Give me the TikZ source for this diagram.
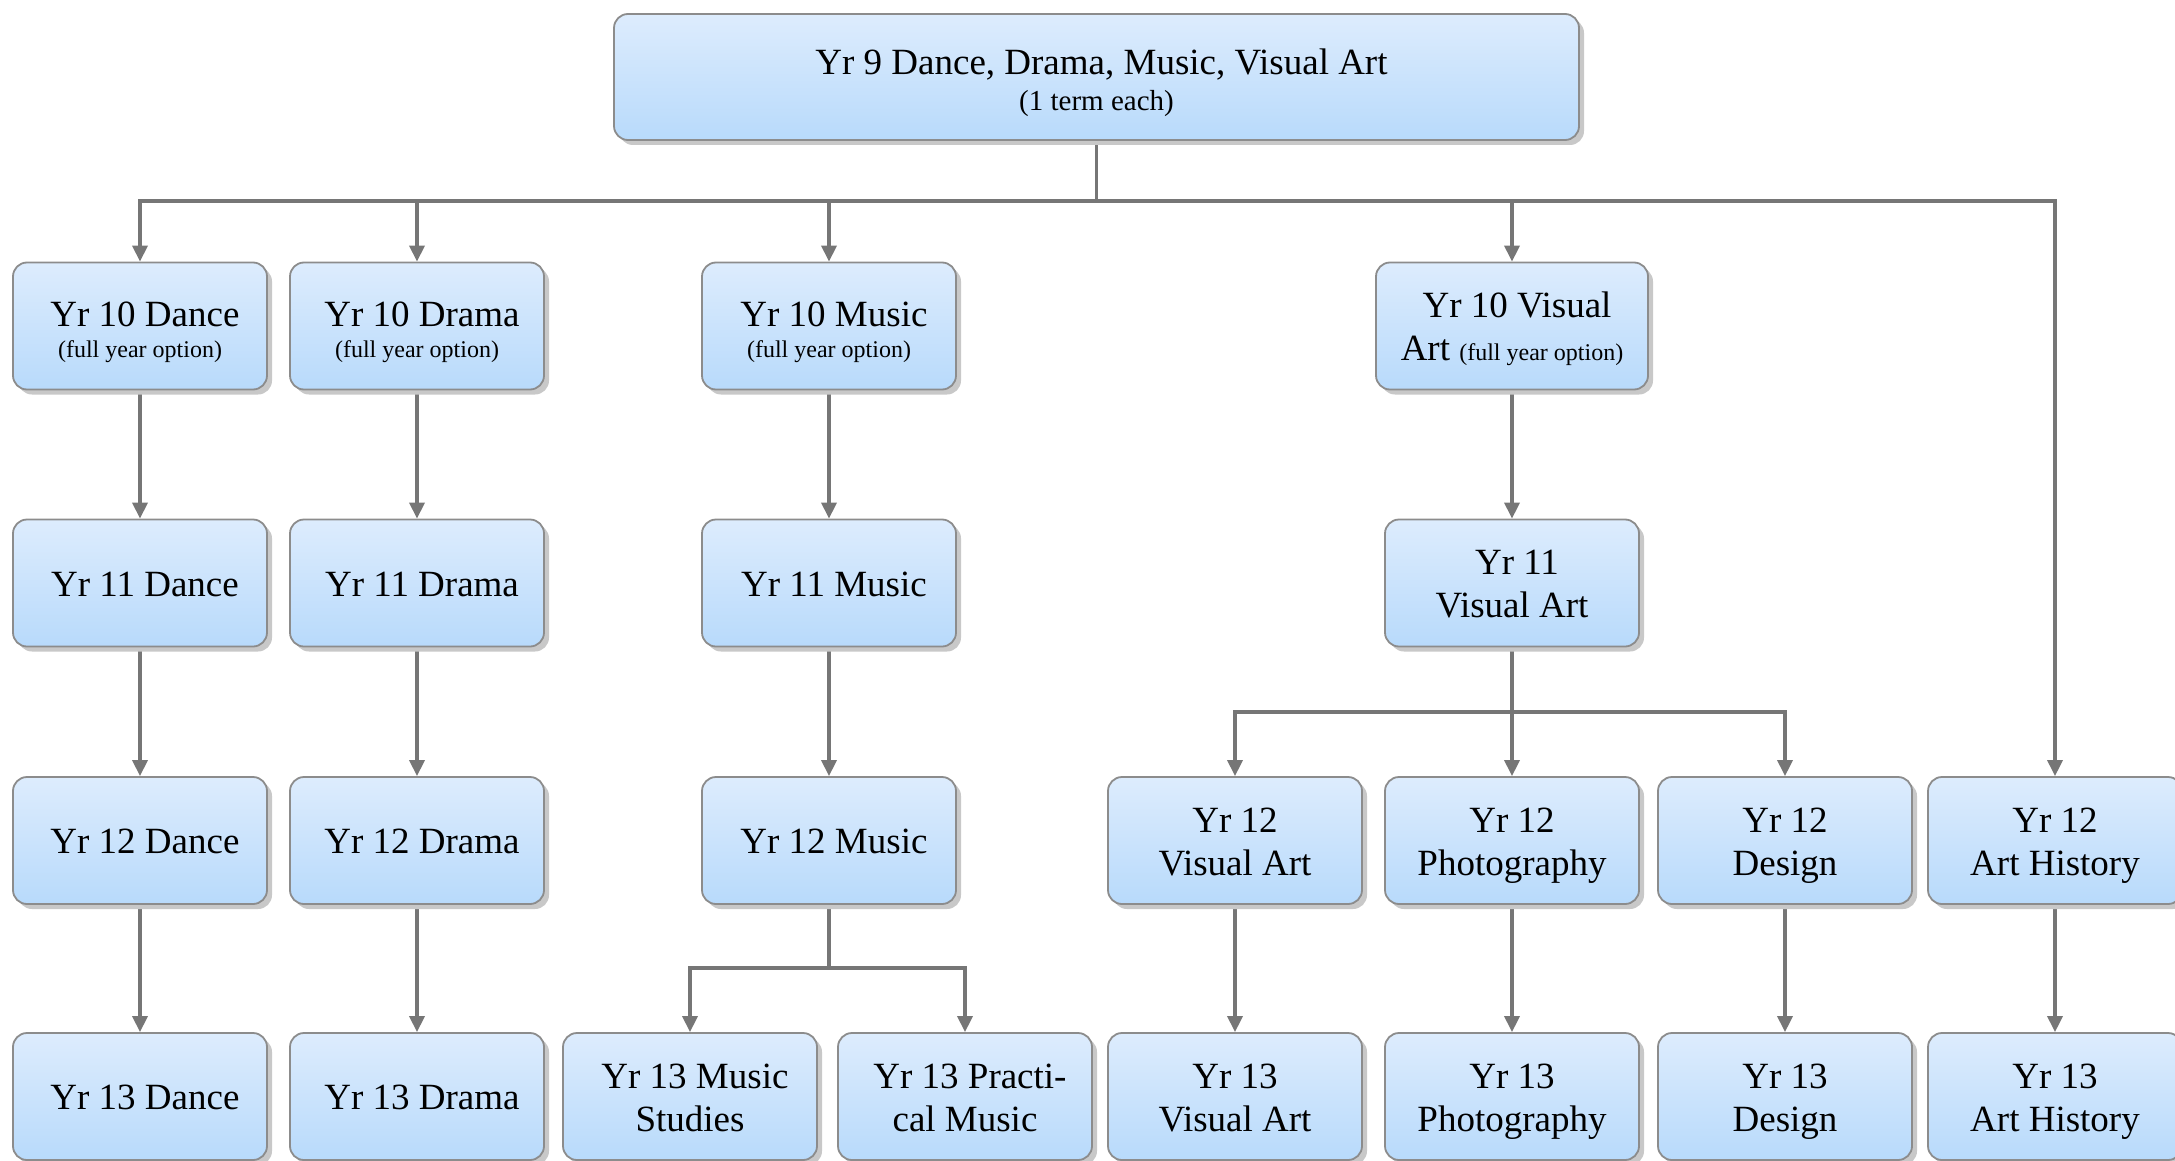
\documentclass[tikz,border=0pt]{standalone}
\usepackage{fontspec}
\setmainfont{Liberation Serif}
\usetikzlibrary{shadows,arrows.meta,backgrounds}
\definecolor{boxtop}{RGB}{221,236,253}
\definecolor{boxbot}{RGB}{184,218,251}
\definecolor{boxline}{RGB}{140,140,140}
\definecolor{conncol}{RGB}{118,118,118}
\definecolor{shadowcol}{RGB}{200,200,200}
\newcommand{\smalltxt}{\fontsize{24}{28}\selectfont}
% first-line strut, last-line strut, leading indent
\newcommand{\fs}{\vrule width 0pt height 36pt depth 0pt\relax}
\newcommand{\fsb}{\vrule width 0pt height 42pt depth 0pt\relax}
\newcommand{\ls}{\vrule width 0pt height 0pt depth 10pt\relax}
\newcommand{\lead}{\hspace*{10pt}}
\tikzset{
  box/.style={rounded corners=14pt, draw=boxline, line width=1.8pt,
    top color=boxtop, bottom color=boxbot,
    minimum width=254pt, minimum height=127pt, align=center, inner sep=0pt,
    font=\fontsize{37}{43}\selectfont,
    drop shadow={shadow xshift=5pt, shadow yshift=-5pt, fill=shadowcol, opacity=1}},
  conn/.style={draw=conncol, line width=3.5pt, line cap=rect},
  arr/.style={conn, -{Triangle[width=15pt,length=16pt]}}
}
\begin{document}
\begin{tikzpicture}[x=1pt,y=-1pt]
\useasboundingbox (0,0) rectangle (2175,1161);
% top
\node[box, minimum width=965pt, minimum height=126pt] (y9) at (1096.5,77)
  {\fsb\lead Yr 9 Dance, Drama, Music, Visual Art\\[-7pt]{\fontsize{29}{34}\selectfont (1 term each)}\ls};
% row Yr 10
\node[box] (d10) at (140,326) {\fsb\lead Yr 10 Dance\\[-12pt]{\smalltxt (full year option)}\ls};
\node[box] (r10) at (417,326) {\fsb\lead Yr 10 Drama\\[-12pt]{\smalltxt (full year option)}\ls};
\node[box] (m10) at (829,326) {\fsb\lead Yr 10 Music\\[-12pt]{\smalltxt (full year option)}\ls};
\node[box, minimum width=272pt] (v10) at (1512,326) {\fs\lead Yr 10 Visual\\Art {\smalltxt (full year option)}\ls};
% row Yr 11
\node[box] (d11) at (140,583) {\fs\lead Yr 11 Dance\ls};
\node[box] (r11) at (417,583) {\fs\lead Yr 11 Drama\ls};
\node[box] (m11) at (829,583) {\fs\lead Yr 11 Music\ls};
\node[box] (v11) at (1512,583) {\fs\lead Yr 11\\Visual Art\ls};
% row Yr 12
\node[box] (d12) at (140,840.5) {\fs\lead Yr 12 Dance\ls};
\node[box] (r12) at (417,840.5) {\fs\lead Yr 12 Drama\ls};
\node[box] (m12) at (829,840.5) {\fs\lead Yr 12 Music\ls};
\node[box] (v12) at (1235,840.5) {\fs Yr 12\\Visual Art\ls};
\node[box] (p12) at (1512,840.5) {\fs Yr 12\\Photography\ls};
\node[box] (g12) at (1785,840.5) {\fs Yr 12\\Design\ls};
\node[box] (h12) at (2055,840.5) {\fs Yr 12\\Art History\ls};
% row Yr 13
\node[box] (d13) at (140,1096.5) {\fs\lead Yr 13 Dance\ls};
\node[box] (r13) at (417,1096.5) {\fs\lead Yr 13 Drama\ls};
\node[box] (ms13) at (690,1096.5) {\fs\lead Yr 13 Music\\Studies\ls};
\node[box] (pm13) at (965,1096.5) {\fs\lead Yr 13 Practi-\\cal Music\ls};
\node[box] (v13) at (1235,1096.5) {\fs Yr 13\\Visual Art\ls};
\node[box] (p13) at (1512,1096.5) {\fs Yr 13\\Photography\ls};
\node[box] (g13) at (1785,1096.5) {\fs Yr 13\\Design\ls};
\node[box] (h13) at (2055,1096.5) {\fs Yr 13\\Art History\ls};
% connectors
\coordinate (bus) at (0,201);
\coordinate (mbus) at (0,968);
\coordinate (vbus) at (0,712);
\begin{pgfonlayer}{background}
\draw[conn] (y9.south) -- (y9.south |- bus);
\draw[conn] (d10.north |- bus) -- (h12.north |- bus);
\foreach \n in {d10,r10,m10,v10,h12} \draw[arr] (\n.north |- bus) -- (\n.north);
\draw[arr] (d10.south) -- (d11.north);
\draw[arr] (d11.south) -- (d12.north);
\draw[arr] (d12.south) -- (d13.north);
\draw[arr] (r10.south) -- (r11.north);
\draw[arr] (r11.south) -- (r12.north);
\draw[arr] (r12.south) -- (r13.north);
\draw[arr] (m10.south) -- (m11.north);
\draw[arr] (m11.south) -- (m12.north);
\draw[conn] (m12.south) -- (m12.south |- mbus);
\draw[conn] (ms13.north |- mbus) -- (pm13.north |- mbus);
\foreach \n in {ms13,pm13} \draw[arr] (\n.north |- mbus) -- (\n.north);
\draw[arr] (v10.south) -- (v11.north);
\draw[conn] (v11.south) -- (v11.south |- vbus);
\draw[conn] (v12.north |- vbus) -- (g12.north |- vbus);
\foreach \n in {v12,p12,g12} \draw[arr] (\n.north |- vbus) -- (\n.north);
\draw[arr] (v12.south) -- (v13.north);
\draw[arr] (p12.south) -- (p13.north);
\draw[arr] (g12.south) -- (g13.north);
\draw[arr] (h12.south) -- (h13.north);
\end{pgfonlayer}
\end{tikzpicture}
\end{document}
